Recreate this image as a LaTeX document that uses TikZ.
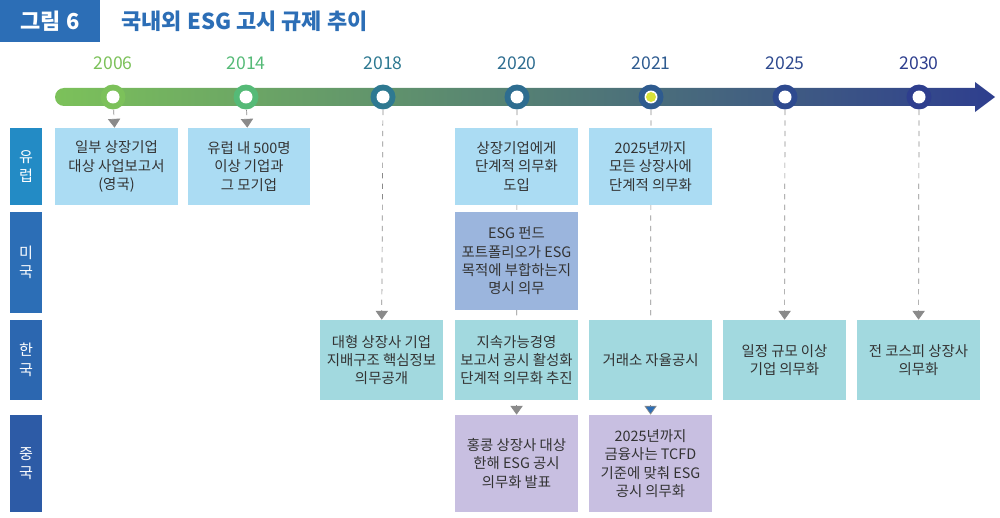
\documentclass[tikz,border=0pt]{standalone}
\usepackage{fontspec}
\setmainfont{Noto Sans CJK KR}
\usepackage{tikz}
\usetikzlibrary{positioning,arrows.meta,backgrounds}
\definecolor{titleblue}{HTML}{2C6EB6}
\definecolor{barGreen}{HTML}{7CC15A}
\definecolor{barTeal}{HTML}{2FB394}
\definecolor{barNavy}{HTML}{2E3E8E}
\definecolor{euBox}{HTML}{ABDCF3}
\definecolor{usBox}{HTML}{9BB5DD}
\definecolor{krBox}{HTML}{A2D9DF}
\definecolor{cnBox}{HTML}{C8BFE1}
\definecolor{lineGrey}{HTML}{8A8A8A}
\definecolor{dotYellow}{HTML}{D8E23A}
\begin{document}
\begin{tikzpicture}[x=0.02cm, y=-0.02cm,
			boxStyle/.style={align=center, font=\fontsize{8.2}{10.4}\selectfont, text=black!80, inner sep=0pt, minimum width=2.46cm},
			euNote/.style={boxStyle, fill=euBox, minimum height=1.54cm},
			usNote/.style={boxStyle, fill=usBox, minimum height=1.96cm},
			krNote/.style={boxStyle, fill=krBox, minimum height=1.6cm},
			cnNote/.style={boxStyle, fill=cnBox, minimum height=1.94cm},
			rowTag/.style={text=white, align=center, minimum width=0.64cm, inner sep=0pt, font=\fontsize{8.6}{11}\selectfont},
			yearDot/.style={circle, fill=#1, minimum size=0.5cm, inner sep=0pt},
			yearText/.style={font=\fontsize{10}{12}\selectfont, text=#1},
			guide/.style={lineGrey, dashed, thin, -{Triangle[width=7pt,length=5pt]}}]
			\useasboundingbox (0,0) rectangle (1000,517);
			
			% title
			\node[fill=titleblue, text=white, minimum width=2cm, minimum height=0.84cm, font=\bfseries\fontsize{12.5}{14}\selectfont] (tag) at (50,21) {그림 6};
			\node[right=0.3cm of tag, text=titleblue, font=\bfseries\fontsize{12.5}{14}\selectfont] (title) {국내외 ESG 고시 규제 추이};
			
			% time bar
			\shade[left color=barGreen, middle color=barTeal!75!barNavy, right color=barNavy]
				(975,88) [rounded corners=0.18cm] -- (55,88) -- (55,106) [sharp corners] -- (975,106) -- (975,112) -- (995,97) -- (975,82) -- cycle;
			
			\foreach \yr/\xx/\col in {2006/113/barGreen, 2014/246/barGreen!50!barTeal, 2018/383/barTeal!50!barNavy, 2020/517/barTeal!40!barNavy, 2021/651/barTeal!25!barNavy, 2025/785/barNavy!90!barTeal, 2030/919/barNavy}
			{
				\node[yearDot=\col] (d\yr) at (\xx,97) {};
				\fill[white] (d\yr) circle (0.13cm);
				\node[yearText=\col, above=0.16cm of d\yr] (y\yr) {\yr};
			}
			\fill[dotYellow] (d2021) circle (0.1cm);
			
			% rows
			\node[rowTag, fill=titleblue!80!cyan, minimum height=1.54cm] (rEU) at (26,166.5) {유\\럽};
			\node[rowTag, fill=titleblue, minimum height=2.02cm] (rUS) at (26,262.5) {미\\국};
			\node[rowTag, fill=titleblue!85!barNavy, minimum height=1.6cm] (rKR) at (26,360) {한\\국};
			\node[rowTag, fill=titleblue!60!barNavy, minimum height=1.94cm] (rCN) at (26,463.5) {중\\국};
			
			% notes
			\node[euNote] (eu2006) at (116.5,166.5) {일부 상장기업\\대상 사업보고서\\(영국)};
			\node[euNote] (eu2014) at (249,166.5) {유럽 내 500명\\이상 기업과\\그 모기업};
			\node[euNote] (eu2020) at (516.5,166.5) {상장기업에게\\단계적 의무화\\도입};
			\node[euNote] (eu2021) at (650.5,166.5) {2025년까지\\모든 상장사에\\단계적 의무화};
			\node[usNote] (us2020) at (516.5,261) {ESG 펀드\\포트폴리오가 ESG\\목적에 부합하는지\\명시 의무};
			\node[krNote] (kr2018) at (381.5,360) {대형 상장사 기업\\지배구조 핵심정보\\의무공개};
			\node[krNote] (kr2020) at (516.5,360) {지속가능경영\\보고서 공시 활성화\\단계적 의무화 추진};
			\node[krNote] (kr2021) at (650.5,360) {거래소 자율공시};
			\node[krNote] (kr2025) at (784.5,360) {일정 규모 이상\\기업 의무화};
			\node[krNote] (kr2030) at (918.5,360) {전 코스피 상장사\\의무화};
			\node[cnNote] (cn2020) at (516.5,463.5) {홍콩 상장사 대상\\한해 ESG 공시\\의무화 발표};
			\node[cnNote] (cn2021) at (650.5,463.5) {2025년까지\\금융사는 TCFD\\기준에 맞춰 ESG\\공시 의무화};
			
			\begin{scope}[on background layer]
				\draw[guide] (d2006) -- (eu2006);
				\draw[guide] (d2014) -- (eu2014);
				\draw[guide] (d2018) -- (kr2018);
				\draw[guide] (d2020) -- (cn2020);
				\draw[guide, -{Triangle[width=7pt,length=5pt,fill=titleblue]}] (d2021) -- (cn2021);
				\draw[guide] (d2025) -- (kr2025);
				\draw[guide] (d2030) -- (kr2030);
			\end{scope}
		\end{tikzpicture}
\end{document}
